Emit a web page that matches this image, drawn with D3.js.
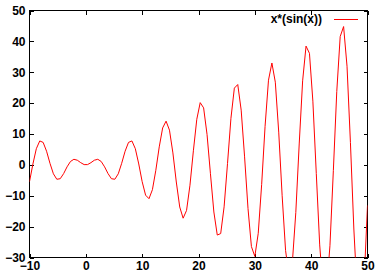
<!DOCTYPE html>
<html>
<head>
<meta charset="utf-8">
<script src="https://cdn.jsdelivr.net/npm/d3@7"></script>
<style>
  body { margin: 0; background: #fff; }
  svg { display: block; }
  text { font-family: "Liberation Sans", Arial, sans-serif; font-weight: bold; font-size: 12px; fill: #000; }
</style>
</head>
<body>
<div id="chart"></div>
<script>
// Variables
var width = 384;
var height = 277;

// sample points (100 samples, -10..50)
var xs = [-10, -9.394, -8.788, -8.182, -7.576, -6.970, -6.364, -5.758, -5.152, -4.545,
  -3.939, -3.333, -2.727, -2.121, -1.515, -0.909, -0.303, 0.303, 0.909, 1.515,
  2.121, 2.727, 3.333, 3.939, 4.545, 5.152, 5.758, 6.364, 6.970, 7.576,
  8.182, 8.788, 9.394, 10, 10.606, 11.212, 11.818, 12.424, 13.030, 13.636,
  14.242, 14.848, 15.455, 16.061, 16.667, 17.273, 17.879, 18.485, 19.091, 19.697,
  20.303, 20.909, 21.515, 22.121, 22.727, 23.333, 23.939, 24.545, 25.152, 25.758,
  26.364, 26.970, 27.576, 28.182, 28.788, 29.394, 30, 30.606, 31.212, 31.818,
  32.424, 33.030, 33.636, 34.242, 34.848, 35.455, 36.061, 36.667, 37.273, 37.879,
  38.485, 39.091, 39.697, 40.303, 40.909, 41.515, 42.121, 42.727, 43.333, 43.939,
  44.545, 45.152, 45.758, 46.364, 46.970, 47.576, 48.182, 48.788, 49.394, 50];

var ys = [-5.44, 0.29, 5.23, 7.75, 7.28, 4.42, 0.51, -2.89, -4.66, -4.48,
  -2.82, -0.64, 1.10, 1.81, 1.51, 0.72, 0.09, 0.09, 0.72, 1.51,
  1.81, 1.10, -0.64, -2.82, -4.48, -4.66, -2.89, 0.51, 4.42, 7.28,
  7.75, 5.23, 0.29, -5.44, -9.81, -10.95, -8.04, -1.76, 5.83, 11.96,
  14.16, 11.25, 3.87, -5.55, -13.64, -17.27, -14.76, -6.59, 4.56, 14.76,
  20.16, 18.46, 9.86, -2.87, -15.26, -22.73, -22.25, -13.60, 0.47, 15.07,
  24.86, 26.02, 17.73, 2.60, -14.14, -26.45, -29.64, -22.16, -6.32, 12.46,
  27.43, 33.00, 26.78, 10.61, -10.00, -27.71, -35.98, -31.48, -15.42, 6.77,
  27.22, 38.47, 36.13, 20.64, -2.80, -25.92, -40.36, -40.61, -26.19, -1.88,
  23.78, 41.56, 44.80, 31.95, 7.21, -20.77, -41.98, -48.58, -37.80, -13.12];

var xTicks = [-10, 0, 10, 20, 30, 40, 50];
var yTicks = [-30, -20, -10, 0, 10, 20, 30, 40, 50];
var seriesName = "x*(sin(x))";

// plot box edges (top is a reserved window name, so prefix them)
var pLeft = 29.5, pRight = 367.5, pTop = 10.5, pBottom = 257.5;

var x = d3.scaleLinear().domain([-10, 50]).range([pLeft, pRight]);
var y = d3.scaleLinear().domain([-30, 50]).range([pBottom, pTop]);

var svg = d3.select("#chart").append("svg")
    .attr("width", width)
    .attr("height", height);

svg.append("clipPath").attr("id", "plotclip")
  .append("rect")
    .attr("x", pLeft).attr("y", pTop)
    .attr("width", pRight - pLeft).attr("height", pBottom - pTop);

// axes, ticks pointing inward on all four sides
function styleAxis(g) {
  g.select(".domain").remove();
  g.selectAll("line").attr("stroke", "#000").attr("shape-rendering", "crispEdges");
  g.selectAll("text").attr("font-family", null).attr("font-size", null);
}

svg.append("g")
    .attr("transform", "translate(0," + pBottom + ")")
    .call(d3.axisBottom(x).tickValues(xTicks).tickSizeInner(-4).tickSizeOuter(0).tickPadding(4))
    .call(styleAxis);

svg.append("g")
    .attr("transform", "translate(0," + pTop + ")")
    .call(d3.axisTop(x).tickValues(xTicks).tickSizeInner(-4).tickSizeOuter(0).tickFormat(""))
    .call(styleAxis);

svg.append("g")
    .attr("transform", "translate(" + pLeft + ",0)")
    .call(d3.axisLeft(y).tickValues(yTicks).tickSizeInner(-4).tickSizeOuter(0).tickPadding(4))
    .call(styleAxis);

svg.append("g")
    .attr("transform", "translate(" + pRight + ",0)")
    .call(d3.axisRight(y).tickValues(yTicks).tickSizeInner(-4).tickSizeOuter(0).tickFormat(""))
    .call(styleAxis);

// frame
svg.append("rect")
    .attr("x", pLeft).attr("y", pTop)
    .attr("width", pRight - pLeft).attr("height", pBottom - pTop)
    .attr("fill", "none")
    .attr("stroke", "#000")
    .attr("shape-rendering", "crispEdges");

var line = d3.line()
    .x(function(d, i) { return x(xs[i]); })
    .y(function(d) { return y(d); });

svg.append("path")
    .datum(ys)
    .attr("clip-path", "url(#plotclip)")
    .attr("fill", "none")
    .attr("stroke", "#f00")
    .attr("stroke-width", 1)
    .attr("d", line);

// key
var key = svg.append("g");
key.append("text")
    .attr("x", 322)
    .attr("y", 19)
    .attr("dy", "0.35em")
    .attr("text-anchor", "end")
    .text(seriesName);
key.append("line")
    .attr("x1", 334).attr("x2", 358)
    .attr("y1", 19.5).attr("y2", 19.5)
    .attr("stroke", "#f00")
    .attr("shape-rendering", "crispEdges");
</script>
</body>
</html>
